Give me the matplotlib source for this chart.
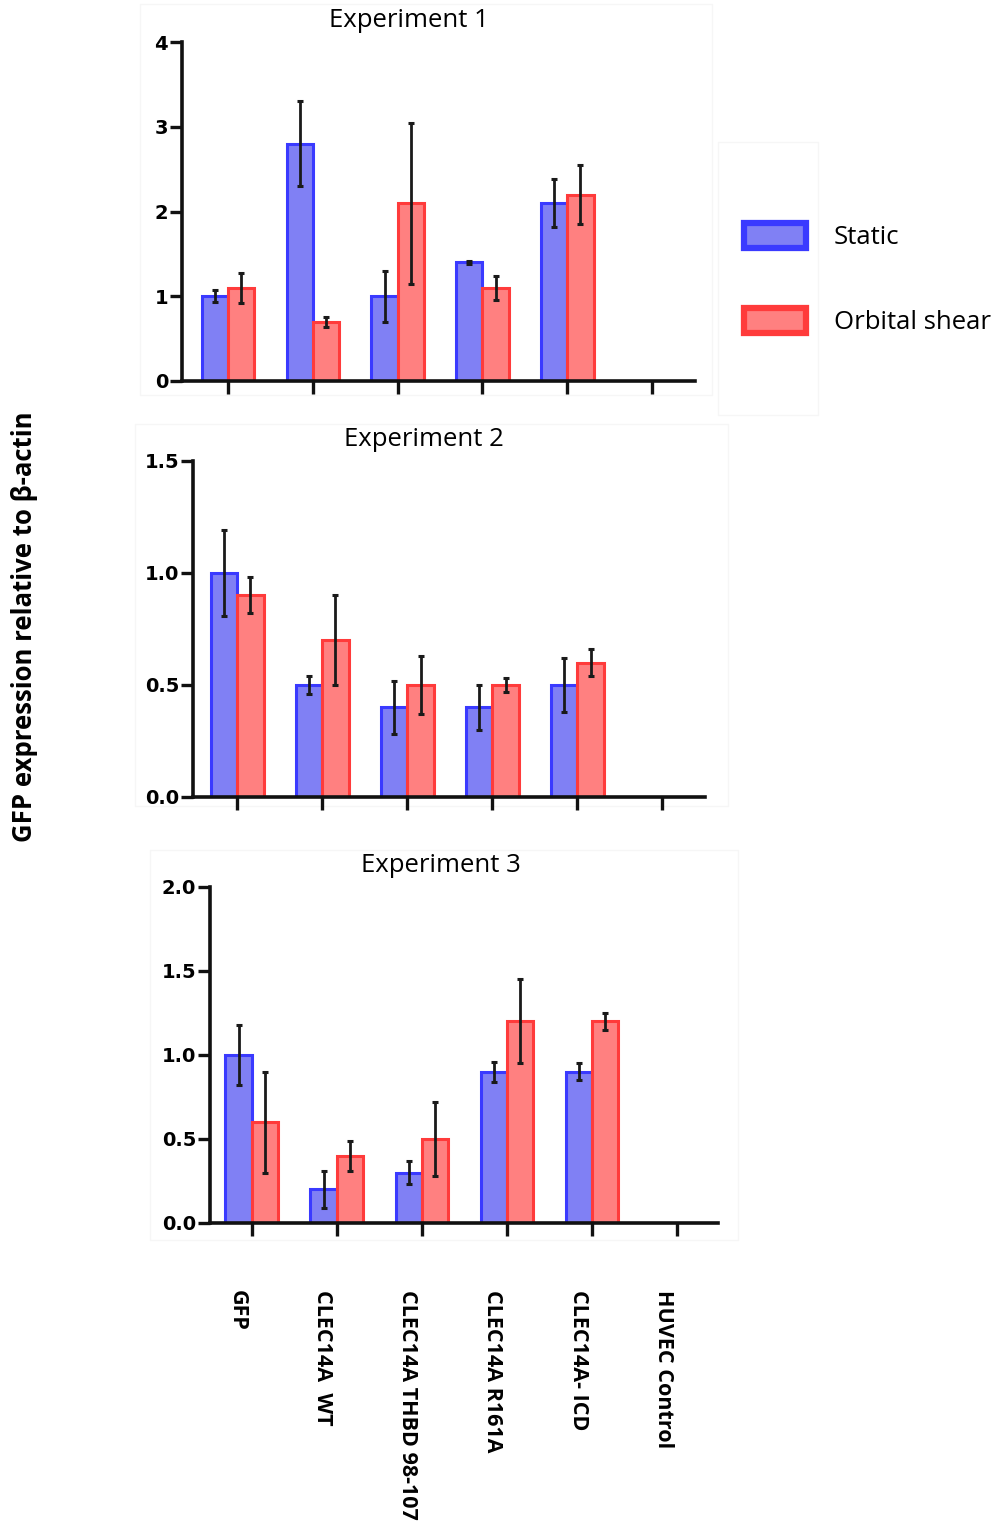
import matplotlib
matplotlib.use("Agg")
import matplotlib.pyplot as plt
from matplotlib.patches import Patch, Rectangle
from matplotlib.transforms import ScaledTranslation
import numpy as np

# groups along the x axis (HUVEC control has no bars)
groups = ["GFP", "CLEC14A  WT", "CLEC14A THBD 98-107", "CLEC14A R161A",
          "CLEC14A- ICD", "HUVEC Control"]

# experiment 1
exp1_static = [1.0, 2.8, 1.0, 1.4, 2.1]
exp1_static_err = [0.07, 0.5, 0.3, 0.02, 0.28]
exp1_shear = [1.1, 0.7, 2.1, 1.1, 2.2]
exp1_shear_err = [0.18, 0.06, 0.95, 0.14, 0.35]

# experiment 2
exp2_static = [1.0, 0.5, 0.4, 0.4, 0.5]
exp2_static_err = [0.19, 0.04, 0.12, 0.1, 0.12]
exp2_shear = [0.9, 0.7, 0.5, 0.5, 0.6]
exp2_shear_err = [0.08, 0.2, 0.13, 0.03, 0.06]

# experiment 3
exp3_static = [1.0, 0.2, 0.3, 0.9, 0.9]
exp3_static_err = [0.18, 0.11, 0.07, 0.06, 0.05]
exp3_shear = [0.6, 0.4, 0.5, 1.2, 1.2]
exp3_shear_err = [0.3, 0.09, 0.22, 0.25, 0.05]

titles = ["Experiment 1", "Experiment 2", "Experiment 3"]
yticks = [[0, 1, 2, 3, 4], [0.0, 0.5, 1.0, 1.5], [0.0, 0.5, 1.0, 1.5, 2.0]]
ylims = [4, 1.5, 2.0]

blue_face, blue_edge = "#8080f4", "#3a3aff"
red_face, red_edge = "#ff8080", "#ff3b3b"

W, H = 1006, 1526
fig = plt.figure(figsize=(W / 100, H / 100), dpi=100)


def px_axes(left, right, top, bottom):
    return fig.add_axes([left / W, 1 - bottom / H, (right - left) / W, (bottom - top) / H])


# very faint frames around each panel and the legend, kept behind everything
for (x0, y0, x1, y1) in [(140, 4, 712, 395), (718, 142, 818, 415),
                         (135, 424, 728, 806), (150, 850, 738, 1240)]:
    fig.patches.append(Rectangle((x0 / W, 1 - y1 / H), (x1 - x0) / W, (y1 - y0) / H,
                                 transform=fig.transFigure, fill=False,
                                 edgecolor="#f6f6f6", linewidth=1, zorder=-5))

# pixel box of each panel: left, right, top, bottom
boxes = [(182, 695, 42, 381), (193, 705, 461, 797), (210, 718, 887, 1223)]
data = [(exp1_static, exp1_static_err, exp1_shear, exp1_shear_err),
        (exp2_static, exp2_static_err, exp2_shear, exp2_shear_err),
        (exp3_static, exp3_static_err, exp3_shear, exp3_shear_err)]
xlims = [(-0.545, 5.507), (-0.52, 5.5), (-0.49, 5.48)]
title_x = [0.443, 0.451, 0.455]

width = 0.31
x = np.arange(5)
axes = []
for i in range(3):
    ax = px_axes(*boxes[i])
    ax.patch.set_alpha(0)
    st, st_err, sh, sh_err = data[i]
    ax.bar(x - width / 2, st, width, color=blue_face, edgecolor=blue_edge, linewidth=2.2)
    ax.bar(x + width / 2, sh, width, color=red_face, edgecolor=red_edge, linewidth=2.2)
    ax.errorbar(x - width / 2, st, yerr=st_err, fmt="none", ecolor="#1a1a1a",
                elinewidth=2, capsize=2.5, capthick=2.2)
    ax.errorbar(x + width / 2, sh, yerr=sh_err, fmt="none", ecolor="#1a1a1a",
                elinewidth=2, capsize=2.5, capthick=2.2)
    ax.set_xlim(*xlims[i])
    ax.set_ylim(0, ylims[i])
    ax.set_yticks(yticks[i])
    if i == 0:
        ax.set_yticklabels([str(v) for v in yticks[i]])
    else:
        ax.set_yticklabels(["%.1f" % v for v in yticks[i]])
    ax.set_xticks(np.arange(len(groups)))
    for s in ["top", "right"]:
        ax.spines[s].set_visible(False)
    for s in ["left", "bottom"]:
        ax.spines[s].set_linewidth(2.6)
        ax.spines[s].set_color("#111111")
    ax.tick_params(axis="y", length=9, width=2.4, pad=1, labelsize=14, color="#111111")
    ax.tick_params(axis="x", length=9, width=2.4, color="#111111")
    for lab in ax.get_yticklabels():
        lab.set_fontfamily("DejaVu Sans")
        lab.set_fontweight("bold")
    ax.set_title(titles[i], fontsize=18.5, fontfamily="Open Sans", x=title_x[i], pad=11)
    axes.append(ax)

axes[0].set_xticklabels([])
axes[1].set_xticklabels([])
axes[2].set_xticklabels(groups, rotation=-90, fontsize=15.5, fontweight="bold",
                        fontfamily="Open Sans", va="top", ha="center")
axes[2].tick_params(axis="x", pad=39)
shift = ScaledTranslation(-0.14, 0, fig.dpi_scale_trans)
for lab in axes[2].get_xticklabels():
    lab.set_transform(lab.get_transform() + shift)

fig.text(25 / W, 1 - 627 / H, "GFP expression relative to \u03b2-actin", rotation=90,
         ha="center", va="center", fontsize=18.5, fontweight="bold", fontfamily="Open Sans")

handles = [Patch(facecolor=blue_face, edgecolor=blue_edge, linewidth=4.5),
           Patch(facecolor=red_face, edgecolor=red_edge, linewidth=4.5)]
fig.legend(handles, ["Static", "Orbital shear"], loc="center left",
           bbox_to_anchor=(721 / W, 1 - 279 / H), frameon=False,
           prop={"family": "Open Sans", "size": 18.5}, handlelength=2.4,
           handleheight=1.1, handletextpad=1.1, labelspacing=2.25)

fig.savefig("out.png", dpi=100, facecolor="white")
